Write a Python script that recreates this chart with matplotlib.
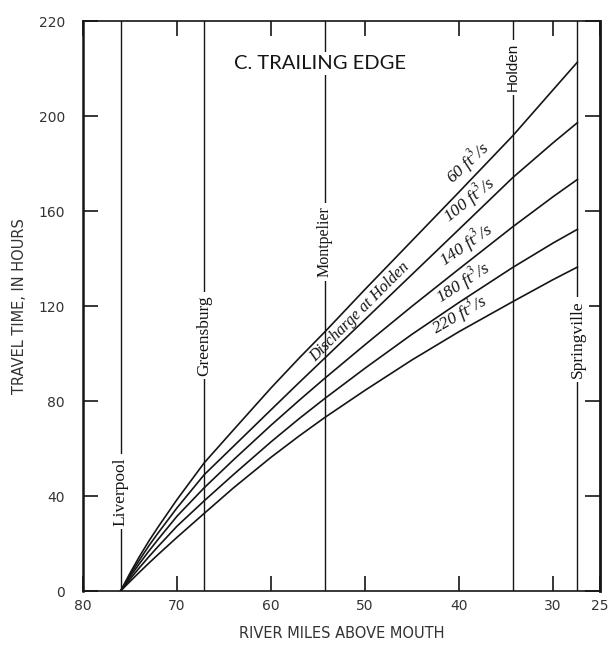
import numpy as np
import matplotlib.pyplot as plt

plt.rcParams['mathtext.fontset'] = 'stix'

# river mile stations along the curves (downstream to the right)
miles = [76.0, 75, 74, 73, 72, 70, 67.1, 64, 60, 57, 54.3, 50, 45, 40, 34.3, 30, 27.4]

# travel time of the trailing edge, hours, for each discharge at Holden
hours_60 = [0, 7.5, 14.5, 21, 27, 38.5, 54, 67.8, 85.5, 98.1, 109, 127, 147.5, 168, 191.6, 211, 222.7]
hours_100 = [0, 6.8, 13, 19, 24.5, 35, 49, 60.9, 76.3, 87.8, 98, 114.3, 133.3, 152.3, 174, 188.7, 197.2]
hours_140 = [0, 6, 11.5, 16.8, 21.8, 31.5, 43.5, 55.2, 69.8, 80.3, 89.5, 103.7, 119.9, 135.6, 153.3, 166, 173.3]
hours_180 = [0, 5.0, 9.8, 14.4, 18.8, 27.3, 38, 49.0, 62.8, 72.6, 81, 93.8, 108.1, 121.5, 136.2, 146.5, 152.3]
hours_220 = [0, 4.0, 7.9, 11.7, 15.4, 22.6, 32.7, 43.4, 56.3, 65.3, 73, 84.5, 97.3, 109.2, 121.8, 131.1, 136.4]

discharges = [60, 100, 140, 180, 220]
curves = [hours_60, hours_100, hours_140, hours_180, hours_220]

station_names = ["Liverpool", "Greensburg", "Montpelier", "Holden", "Springville"]
station_miles = [76.0, 67.1, 54.3, 34.3, 27.4]

ytick_vals = [0, 40, 80, 120, 160, 200, 240]
ytick_text = ["0", "40", "80", "120", "160", "200", "220"]
xtick_vals = [80, 70, 60, 50, 40, 30, 25]

ink = '#151515'

fig = plt.figure(figsize=(6.13, 6.55), dpi=100)
ax = fig.add_axes([0.1354, 0.0977, 0.8434, 0.8702])
ax.set_xlim(80, 25)
ax.set_ylim(0, 240)

for h in curves:
    ax.plot(miles, h, color=ink, lw=1.2, zorder=2)

# gauging stations: vertical lines broken by their names
station_label_y = [42, 107.5, 147, 220.5, 106]
station_fonts = ['Liberation Serif', 'Liberation Serif', 'Liberation Serif',
                 'Liberation Sans', 'Liberation Serif']
station_sizes = [12.5, 12.5, 11.5, 11, 12.5]
for name, m, yl, fam, fs in zip(station_names, station_miles, station_label_y,
                                station_fonts, station_sizes):
    ax.axvline(m, color=ink, lw=1.0, zorder=1)
    ax.text(m, yl, name, rotation=90, ha='center', va='center', fontsize=fs,
            family=fam, color=ink, zorder=3,
            bbox=dict(facecolor='white', edgecolor='none', pad=2.5))

# discharge labels sitting on each curve
label_miles = [38.2, 38.1, 38.5, 38.9, 39.3]
label_angles = [43, 39, 35, 33, 30]
rev_miles = miles[::-1]
for q, h, xm, ang in zip(discharges, curves, label_miles, label_angles):
    yc = np.interp(xm, rev_miles, h[::-1])
    ax.text(xm, yc + 1.2, f"{q} ft$^3$/s", rotation=ang, rotation_mode='anchor',
            ha='center', va='bottom', fontsize=12.5, family='Liberation Serif',
            style='italic', color=ink, zorder=4)

ax.text(50.5, 117.5, "Discharge at Holden", rotation=45, rotation_mode='anchor',
        ha='center', va='center', fontsize=11.5, family='Liberation Serif',
        style='italic', color=ink, zorder=4)

ax.text(0.458, 0.926, "C. TRAILING EDGE", transform=ax.transAxes, ha='center',
        va='center', fontsize=14.5, family='Lato', color=ink, zorder=4,
        bbox=dict(facecolor='white', edgecolor='none', pad=2))

ax.set_xticks(xtick_vals)
ax.set_yticks(ytick_vals)
ax.set_yticklabels(ytick_text)
ax.tick_params(axis='both', direction='in', length=11, width=1.2, top=True,
               right=True, labelsize=10, labelcolor='#333333', color=ink)
ax.tick_params(axis='y', pad=13)
ax.tick_params(axis='x', pad=6)

ax.spines['left'].set_linewidth(1.8)
ax.spines['right'].set_linewidth(2.0)
ax.spines['top'].set_linewidth(1.2)
ax.spines['bottom'].set_linewidth(1.2)
for s in ax.spines.values():
    s.set_color(ink)

ax.set_xlabel("RIVER MILES ABOVE MOUTH", fontsize=10.5, color='#333333', labelpad=9)
ax.set_ylabel("TRAVEL TIME, IN HOURS", fontsize=10.5, color='#333333', labelpad=8)

fig.savefig('out.png', dpi=100)
